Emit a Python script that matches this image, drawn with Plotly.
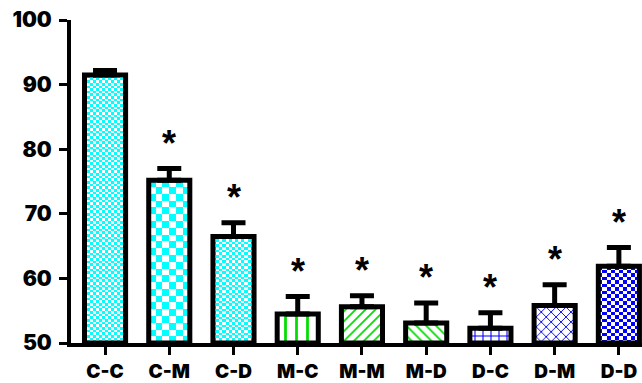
import numpy as np
import plotly.graph_objects as go

# Group labels, means and upper error (SEM)
categories = ["C-C", "C-M", "C-D", "M-C", "M-M", "M-D", "D-C", "D-M", "D-D"]
means = [91.5, 75.2, 66.5, 54.5, 55.6, 53.1, 52.3, 55.8, 61.9]
errors = [0.7, 1.8, 2.1, 2.7, 1.7, 3.1, 2.4, 3.2, 2.9]
significant = [False, True, True, True, True, True, True, True, True]

# Fill styles per group
fill_kind = ["check", "check", "check", "|", "/", "\\", "+", "x", "check"]
fill_color = ["#00FFFF", "#00FFFF", "#00FFFF", "#00DD00", "#00DD00", "#00DD00",
              "#0000FF", "#0000FF", "#0000FF"]
check_px = [(3, 2.7), (7, 7), (3.2, 2.7), None, None, None, None, None, (4, 3.6)]
pattern_size = [8, 8, 8, 11, 7, 7, 8, 7, 8]

W, H = 642, 383
ML, MR, MT, MB = 71, 0, 20, 35
X_RANGE = [-0.53, 8.36]
Y_RANGE = [50, 100]
BAR_W = 0.64
FONT = "Inter, Arial, sans-serif"

px_per_x = (W - ML - MR) / (X_RANGE[1] - X_RANGE[0])
px_per_y = (H - MT - MB) / (Y_RANGE[1] - Y_RANGE[0])

xs = list(range(len(categories)))
fig = go.Figure()

# Checkerboard fills drawn as heatmaps beneath the outlined bars
for i, (kind, col) in enumerate(zip(fill_kind, fill_color)):
    if kind != "check":
        continue
    sw, sh = check_px[i]
    x0, x1 = i - BAR_W / 2, i + BAR_W / 2
    ncol = max(1, int(round((x1 - x0) * px_per_x / sw)))
    nrow = max(1, int(round((means[i] - Y_RANGE[0]) * px_per_y / sh)))
    xe = np.linspace(x0, x1, ncol + 1)
    ye = np.linspace(Y_RANGE[0], means[i], nrow + 1)
    z = np.add.outer(np.arange(nrow), np.arange(ncol)) % 2
    fig.add_trace(go.Heatmap(
        x=xe, y=ye, z=z, zmin=0, zmax=1,
        colorscale=[[0, "white"], [1, col]],
        showscale=False, hoverinfo="skip",
    ))

# One outlined bar per group, hatched where the group uses a line pattern
for i, (m, e, kind, col) in enumerate(zip(means, errors, fill_kind, fill_color)):
    marker = dict(line=dict(color="black", width=5))
    if kind == "check":
        marker["color"] = "rgba(0,0,0,0)"
    else:
        marker["color"] = "white"
        marker["pattern"] = dict(shape=kind, fgcolor=col, fgopacity=1,
                                 bgcolor="white", size=pattern_size[i],
                                 solidity=0.25, fillmode="replace")
    fig.add_trace(go.Bar(
        x=[i], y=[m - Y_RANGE[0]], base=Y_RANGE[0], width=BAR_W,
        marker=marker,
        error_y=dict(type="data", symmetric=False, array=[e], arrayminus=[0],
                     color="black", thickness=5, width=12),
        hoverinfo="skip",
    ))

for i, (m, e, s) in enumerate(zip(means, errors, significant)):
    if s:
        fig.add_annotation(x=i, y=m + e, text="*", showarrow=False,
                           yanchor="middle", yshift=25,
                           font=dict(family="Arial, sans-serif", size=36,
                                     color="black", weight=900))

fig.update_layout(
    width=W, height=H,
    margin=dict(l=ML, r=MR, t=MT, b=MB),
    paper_bgcolor="white", plot_bgcolor="white",
    showlegend=False, barmode="overlay",
    xaxis=dict(
        range=X_RANGE, tickvals=xs, ticktext=categories,
        showgrid=False, zeroline=False,
        showline=True, linecolor="black", linewidth=4,
        ticks="outside", ticklen=8, tickwidth=3, tickcolor="black",
        tickfont=dict(family=FONT, size=19, color="black", weight=900),
    ),
    yaxis=dict(
        range=Y_RANGE, tickvals=[50, 60, 70, 80, 90, 100],
        showgrid=False, zeroline=False,
        showline=True, linecolor="black", linewidth=4,
        ticks="outside", ticklen=8, tickwidth=3, tickcolor="black",
        ticklabelstandoff=3,
        tickfont=dict(family=FONT, size=21, color="black", weight=900),
    ),
)

fig.write_html("out.html")
